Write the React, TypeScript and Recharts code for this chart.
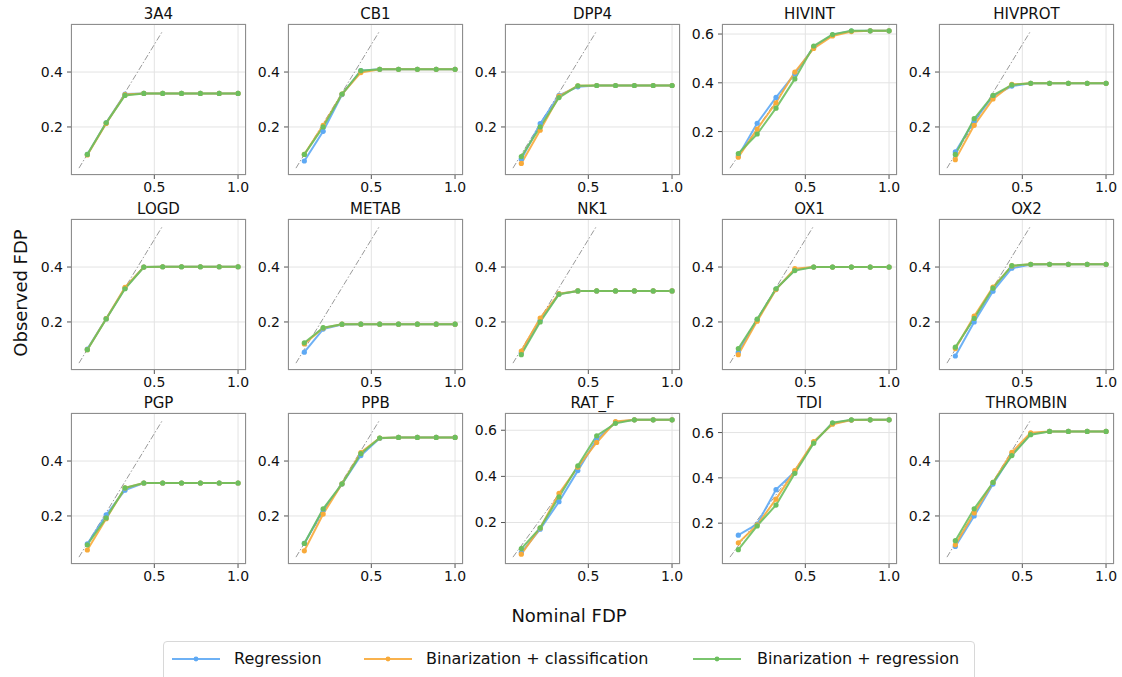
import React from "react";
import { LineChart, Line, XAxis, YAxis, CartesianGrid, ReferenceLine } from "recharts";

// nominal FDP levels shared by every target
const NOMINAL = [0.1, 0.2125, 0.325, 0.4375, 0.55, 0.6625, 0.775, 0.8875, 1.0];

const TARGETS = [
  "3A4", "CB1", "DPP4", "HIVINT", "HIVPROT",
  "LOGD", "METAB", "NK1", "OX1", "OX2",
  "PGP", "PPB", "RAT_F", "TDI", "THROMBIN",
];

// observed FDP, one row per target (same order as TARGETS)
const REGRESSION = [
  [0.1, 0.215, 0.32, 0.322, 0.322, 0.322, 0.322, 0.322, 0.322],
  [0.076, 0.184, 0.318, 0.405, 0.41, 0.41, 0.41, 0.41, 0.41],
  [0.082, 0.212, 0.315, 0.346, 0.351, 0.351, 0.351, 0.351, 0.351],
  [0.1, 0.234, 0.34, 0.437, 0.546, 0.597, 0.612, 0.613, 0.613],
  [0.109, 0.222, 0.312, 0.349, 0.359, 0.359, 0.359, 0.359, 0.359],
  [0.101, 0.212, 0.323, 0.4, 0.401, 0.401, 0.401, 0.401, 0.401],
  [0.09, 0.174, 0.191, 0.192, 0.192, 0.192, 0.192, 0.192, 0.192],
  [0.088, 0.206, 0.302, 0.313, 0.313, 0.313, 0.313, 0.313, 0.313],
  [0.09, 0.208, 0.32, 0.39, 0.4, 0.4, 0.4, 0.4, 0.4],
  [0.076, 0.2, 0.312, 0.396, 0.409, 0.41, 0.41, 0.41, 0.41],
  [0.098, 0.204, 0.294, 0.32, 0.32, 0.32, 0.32, 0.32, 0.32],
  [0.1, 0.222, 0.316, 0.42, 0.483, 0.486, 0.486, 0.486, 0.486],
  [0.07, 0.171, 0.29, 0.425, 0.56, 0.635, 0.645, 0.645, 0.645],
  [0.147, 0.196, 0.348, 0.427, 0.557, 0.641, 0.655, 0.656, 0.656],
  [0.089, 0.2, 0.316, 0.424, 0.499, 0.508, 0.508, 0.508, 0.508],
];

const BIN_CLASSIFICATION = [
  [0.098, 0.213, 0.318, 0.322, 0.322, 0.322, 0.322, 0.322, 0.322],
  [0.1, 0.206, 0.32, 0.398, 0.41, 0.41, 0.41, 0.41, 0.41],
  [0.067, 0.188, 0.312, 0.35, 0.351, 0.351, 0.351, 0.351, 0.351],
  [0.095, 0.21, 0.318, 0.444, 0.541, 0.592, 0.61, 0.613, 0.613],
  [0.081, 0.206, 0.302, 0.355, 0.359, 0.359, 0.359, 0.359, 0.359],
  [0.099, 0.212, 0.326, 0.4, 0.401, 0.401, 0.401, 0.401, 0.401],
  [0.12, 0.178, 0.192, 0.192, 0.192, 0.192, 0.192, 0.192, 0.192],
  [0.094, 0.214, 0.303, 0.313, 0.313, 0.313, 0.313, 0.313, 0.313],
  [0.081, 0.203, 0.318, 0.394, 0.4, 0.4, 0.4, 0.4, 0.4],
  [0.103, 0.221, 0.327, 0.404, 0.41, 0.41, 0.41, 0.41, 0.41],
  [0.076, 0.19, 0.302, 0.32, 0.32, 0.32, 0.32, 0.32, 0.32],
  [0.073, 0.207, 0.317, 0.431, 0.484, 0.486, 0.486, 0.486, 0.486],
  [0.063, 0.176, 0.326, 0.44, 0.547, 0.638, 0.645, 0.645, 0.645],
  [0.113, 0.192, 0.306, 0.432, 0.56, 0.637, 0.655, 0.656, 0.656],
  [0.095, 0.211, 0.322, 0.432, 0.503, 0.508, 0.508, 0.508, 0.508],
];

const BIN_REGRESSION = [
  [0.1, 0.215, 0.315, 0.322, 0.322, 0.322, 0.322, 0.322, 0.322],
  [0.1, 0.2, 0.32, 0.405, 0.41, 0.41, 0.41, 0.41, 0.41],
  [0.092, 0.2, 0.307, 0.35, 0.351, 0.351, 0.351, 0.351, 0.351],
  [0.11, 0.19, 0.296, 0.416, 0.551, 0.598, 0.613, 0.613, 0.613],
  [0.1, 0.23, 0.315, 0.353, 0.359, 0.359, 0.359, 0.359, 0.359],
  [0.099, 0.211, 0.321, 0.4, 0.401, 0.401, 0.401, 0.401, 0.401],
  [0.124, 0.179, 0.192, 0.192, 0.192, 0.192, 0.192, 0.192, 0.192],
  [0.081, 0.2, 0.301, 0.313, 0.313, 0.313, 0.313, 0.313, 0.313],
  [0.103, 0.21, 0.321, 0.387, 0.4, 0.4, 0.4, 0.4, 0.4],
  [0.108, 0.213, 0.323, 0.405, 0.41, 0.41, 0.41, 0.41, 0.41],
  [0.095, 0.193, 0.302, 0.32, 0.32, 0.32, 0.32, 0.32, 0.32],
  [0.1, 0.226, 0.317, 0.427, 0.484, 0.486, 0.486, 0.486, 0.486],
  [0.087, 0.177, 0.311, 0.446, 0.576, 0.63, 0.645, 0.645, 0.645],
  [0.083, 0.188, 0.28, 0.42, 0.553, 0.643, 0.656, 0.656, 0.656],
  [0.11, 0.226, 0.322, 0.42, 0.496, 0.508, 0.508, 0.508, 0.508],
];

const X_TICKS = [0.5, 1.0];
const DIAG = [0.05, 0.55];

const SERIES = [
  { key: "reg", name: "Regression", color: "#5ea9f4" },
  { key: "cls", name: "Binarization + classification", color: "#f8aa3a" },
  { key: "brg", name: "Binarization + regression", color: "#6cbf5e" },
];

const FONT = '"DejaVu Sans", Verdana, sans-serif';
const COL_LEFT = [71, 288, 505, 722, 939];
const ROW_TOP = [24, 219, 413];
const PW = 175;
const PH = 151;
const YW = 45;

function Panel({ idx }: { idx: number }) {
  const data = NOMINAL.map((x, i) => ({
    x,
    reg: REGRESSION[idx][i],
    cls: BIN_CLASSIFICATION[idx][i],
    brg: BIN_REGRESSION[idx][i],
  }));
  const all = [...REGRESSION[idx], ...BIN_CLASSIFICATION[idx], ...BIN_REGRESSION[idx], ...DIAG];
  const lo = Math.min(...all);
  const hi = Math.max(...all);
  const pad = (hi - lo) * 0.05;
  const yTicks = [0.2, 0.4, 0.6].filter((t) => t <= hi + pad);
  const xPad = (1.0 - DIAG[0]) * 0.05;

  const left = COL_LEFT[idx % 5];
  const top = ROW_TOP[Math.floor(idx / 5)];

  return (
    <>
      <div
        style={{
          position: "absolute",
          left,
          top: top - 18,
          width: PW,
          textAlign: "center",
          fontSize: 15,
          lineHeight: "17px",
          color: "#111",
        }}
      >
        {TARGETS[idx]}
      </div>
      <div style={{ position: "absolute", left: left - YW, top: top - 5 }}>
        <LineChart
          width={PW + YW + 5}
          height={PH + 5 + 26}
          data={data}
          margin={{ top: 5, right: 5, left: 0, bottom: 0 }}
        >
          <CartesianGrid stroke="#e3e3e3" strokeWidth={1} />
          <XAxis
            dataKey="x"
            type="number"
            domain={[DIAG[0] - xPad, 1.0 + xPad]}
            ticks={X_TICKS}
            tickFormatter={(v: number) => v.toFixed(1)}
            allowDataOverflow
            height={26}
            axisLine={false}
            tickSize={4}
            tickMargin={3}
            tickLine={{ stroke: "#555" }}
            tick={{ fontSize: 14, fill: "#111", fontFamily: FONT }}
          />
          <YAxis
            type="number"
            domain={[lo - pad, hi + pad]}
            ticks={yTicks}
            tickFormatter={(v: number) => v.toFixed(1)}
            allowDataOverflow
            width={YW}
            axisLine={false}
            tickSize={4}
            tickMargin={4}
            tickLine={{ stroke: "#555" }}
            tick={{ fontSize: 14, fill: "#111", fontFamily: FONT }}
          />
          <ReferenceLine
            segment={[
              { x: DIAG[0], y: DIAG[0] },
              { x: DIAG[1], y: DIAG[1] },
            ]}
            stroke="#9a9a9a"
            strokeWidth={1}
            strokeDasharray="6 2 1.5 2"
          />
          {SERIES.map((s) => (
            <Line
              key={s.key}
              type="linear"
              dataKey={s.key}
              stroke={s.color}
              strokeWidth={2}
              strokeOpacity={0.9}
              dot={{ r: 2.6, fill: s.color, stroke: s.color, strokeWidth: 0 }}
              activeDot={false}
              isAnimationActive={false}
            />
          ))}
        </LineChart>
      </div>
      <div
        style={{
          position: "absolute",
          left,
          top,
          width: PW,
          height: PH,
          border: "1px solid #8e8e8e",
          boxSizing: "border-box",
          pointerEvents: "none",
        }}
      />
    </>
  );
}

function LegendBox() {
  const handleX = [172, 364, 693];
  const textX = [234, 426, 757];
  return (
    <div
      style={{
        position: "absolute",
        left: 163,
        top: 641,
        width: 812,
        height: 40,
        border: "1px solid #d8d8d8",
        borderRadius: 4,
        boxSizing: "border-box",
        background: "#fff",
      }}
    >
      {SERIES.map((s, i) => (
        <React.Fragment key={s.key}>
          <svg
            width={48}
            height={8}
            style={{ position: "absolute", left: handleX[i] - 164, top: 13 }}
          >
            <line x1={0} y1={4} x2={48} y2={4} stroke={s.color} strokeWidth={2} strokeOpacity={0.9} />
            <circle cx={24} cy={4} r={2.4} fill={s.color} />
          </svg>
          <div
            style={{
              position: "absolute",
              left: textX[i] - 164,
              top: 7,
              fontSize: 16,
              lineHeight: "19px",
              color: "#111",
              whiteSpace: "nowrap",
            }}
          >
            {s.name}
          </div>
        </React.Fragment>
      ))}
    </div>
  );
}

export default function App() {
  return (
    <div
      style={{
        position: "absolute",
        left: 0,
        top: 0,
        width: 1122,
        height: 677,
        overflow: "hidden",
        background: "#fff",
        fontFamily: FONT,
      }}
    >
      {TARGETS.map((_, i) => (
        <Panel key={i} idx={i} />
      ))}
      <div
        style={{
          position: "absolute",
          left: 20,
          top: 293,
          transform: "translate(-50%, -50%) rotate(-90deg)",
          fontSize: 18,
          whiteSpace: "nowrap",
          color: "#111",
        }}
      >
        Observed FDP
      </div>
      <div
        style={{
          position: "absolute",
          left: 569,
          top: 615,
          transform: "translate(-50%, -50%)",
          fontSize: 18,
          whiteSpace: "nowrap",
          color: "#111",
        }}
      >
        Nominal FDP
      </div>
      <LegendBox />
    </div>
  );
}
